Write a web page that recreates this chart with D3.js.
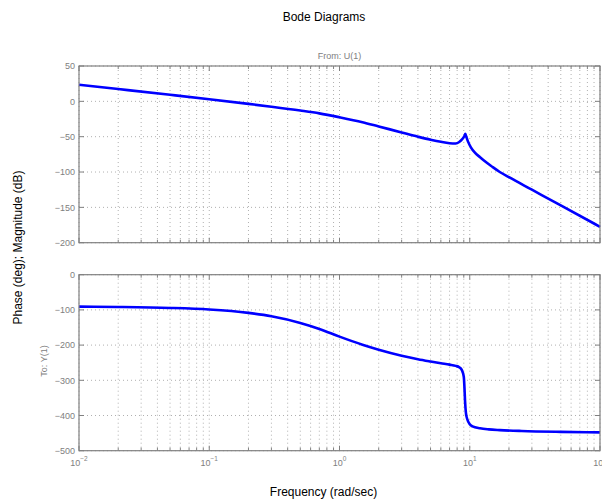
<!DOCTYPE html>
<html><head><meta charset="utf-8">
<script src="https://cdn.jsdelivr.net/npm/d3@7"></script>
<style>
body{margin:0;background:#fff;}
svg{display:block;font-family:"Liberation Sans",Arial,Helvetica,sans-serif;}
</style></head>
<body><svg id="c" width="602" height="500"></svg>
<script>
// ---- data ----
const magFreq = [0.01,0.02,0.05,0.1,0.2,0.3,0.5,0.7,1,1.5,2,3,4,5,6,7,7.8,8.3,8.8,9.1,9.25,9.4,9.7,10.2,11,12,13,15,17,20,30,50,100];
const magDb   = [23.5,17.4,9.3,3,-3.6,-7.6,-13,-17,-22.5,-29.5,-35.5,-44,-50,-54.3,-57.3,-59.2,-59.6,-57.5,-53,-49,-46,-50,-57,-65,-73,-79,-84.5,-93,-100,-107.3,-125,-147.3,-177.5];
const phFreq  = [0.01,0.02,0.05,0.1,0.2,0.3,0.5,0.7,1,1.5,2,3,4,5,6,7,7.8,8.3,8.7,9.0,9.1,9.2,9.35,9.6,10,10.5,12,14,17,25,50,100];
const phDeg   = [-90.8,-91.8,-94.5,-99,-108.5,-118,-137,-154,-176,-199,-213,-230,-240,-246.5,-251.5,-255.5,-259,-263,-271,-290,-318,-358,-393,-412,-425,-431,-436.5,-439.5,-441.5,-444,-446.5,-448];
const magTicks = [50,0,-50,-100,-150,-200];
const phTicks  = [0,-100,-200,-300,-400,-500];
const decades  = [-2,-1,0,1,2];
const titleText = "Bode Diagrams";
const fromText = "From: U(1)";
const toText = "To: Y(1)";
const yLabel = "Phase (deg); Magnitude (dB)";
const xLabel = "Frequency (rad/sec)";

const svg = d3.select("#c");
const L = 79, R = 600;
const x = d3.scaleLog().domain([0.01,100]).range([L,R]);
const yMag = d3.scaleLinear().domain([-200,50]).range([242.7,66]);
const yPh  = d3.scaleLinear().domain([-500,0]).range([450.7,274.7]);

const minorX = [];
for (let d=-2; d<2; d++) for (let k=2; k<=9; k++) minorX.push(k*Math.pow(10,d));
const majorX = decades.map(d=>Math.pow(10,d));

const gridCol = "#b0b0b0", axCol = "#808080", txtCol = "#808080";
const smallFs = 9, bigFs = 12;

function panel(y, ticks, fr, vals) {
  const g = svg.append("g");
  const [y0,y1] = y.range(); // bottom, top
  // grid
  [...minorX, ...majorX].forEach(f=>{
    g.append("line").attr("x1",x(f)).attr("x2",x(f)).attr("y1",y1).attr("y2",y0)
      .attr("stroke",gridCol).attr("stroke-width",1).attr("stroke-dasharray","1,3");
  });
  ticks.forEach(t=>{
    g.append("line").attr("x1",L).attr("x2",R).attr("y1",y(t)).attr("y2",y(t))
      .attr("stroke",gridCol).attr("stroke-width",1).attr("stroke-dasharray","1,3");
  });
  // curve
  const line = d3.line().x((d,i)=>x(fr[i])).y(d=>y(d)).curve(d3.curveMonotoneX);
  g.append("path").attr("d",line(vals)).attr("fill","none").attr("stroke","#0000ff").attr("stroke-width",2.6)
    .attr("stroke-linejoin","round");
  // box
  g.append("rect").attr("x",L).attr("y",y1).attr("width",R-L).attr("height",y0-y1)
    .attr("fill","none").attr("stroke",axCol).attr("stroke-width",1.2);
  // x ticks (inward) top and bottom
  majorX.forEach(f=>{
    g.append("line").attr("x1",x(f)).attr("x2",x(f)).attr("y1",y0).attr("y2",y0-5).attr("stroke",axCol);
    g.append("line").attr("x1",x(f)).attr("x2",x(f)).attr("y1",y1).attr("y2",y1+5).attr("stroke",axCol);
  });
  minorX.forEach(f=>{
    g.append("line").attr("x1",x(f)).attr("x2",x(f)).attr("y1",y0).attr("y2",y0-3).attr("stroke",axCol);
    g.append("line").attr("x1",x(f)).attr("x2",x(f)).attr("y1",y1).attr("y2",y1+3).attr("stroke",axCol);
  });
  // y ticks (inward) left and right + labels
  ticks.forEach(t=>{
    g.append("line").attr("x1",L).attr("x2",L+5).attr("y1",y(t)).attr("y2",y(t)).attr("stroke",axCol);
    g.append("line").attr("x1",R).attr("x2",R-5).attr("y1",y(t)).attr("y2",y(t)).attr("stroke",axCol);
    g.append("text").attr("x",L-4).attr("y",y(t)+3.2).attr("text-anchor","end")
      .attr("font-size",smallFs).attr("fill",txtCol).text(d3.format("")(t).replace("-","\u2212"));
  });
  return g;
}

panel(yMag, magTicks, magFreq, magDb);
panel(yPh, phTicks, phFreq, phDeg);

// x tick labels
decades.forEach(d=>{
  const t = svg.append("text").attr("x",x(Math.pow(10,d))).attr("y",465.5).attr("text-anchor","middle")
    .attr("font-size",smallFs).attr("fill",txtCol);
  t.append("tspan").text("10");
  t.append("tspan").attr("dy",-4.5).attr("font-size",6.5).text(String(d).replace("-","\u2212"));
});

svg.append("text").attr("x",324).attr("y",20.5).attr("text-anchor","middle").attr("font-size",bigFs).attr("fill","#000").text(titleText);
svg.append("text").attr("x",339.5).attr("y",59).attr("text-anchor","middle").attr("font-size",smallFs).attr("fill",txtCol).text(fromText);
svg.append("text").attr("x",323.5).attr("y",495.5).attr("text-anchor","middle").attr("font-size",bigFs).attr("fill","#000").text(xLabel);
svg.append("text").attr("transform","translate(21.5,247.5) rotate(-90)").attr("text-anchor","middle").attr("font-size",bigFs).attr("fill","#000").text(yLabel);
svg.append("text").attr("transform","translate(47,361) rotate(-90)").attr("text-anchor","middle").attr("font-size",smallFs).attr("fill",txtCol).text(toText);
</script></body></html>
